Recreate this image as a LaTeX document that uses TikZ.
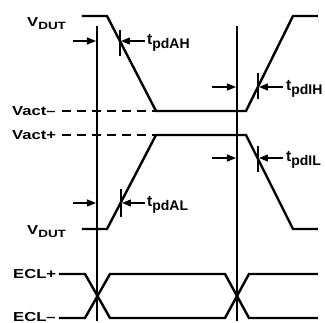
\documentclass[tikz,border=0pt]{standalone}
\usepackage{fontspec}
\setmainfont{Liberation Sans}
\usetikzlibrary{arrows.meta}
\newcommand\widetx[1]{\scalebox{1.28}[1]{#1}}
\newcommand\vsub[1]{\raisebox{-3pt}{\fontsize{10.5}{11}\selectfont\bfseries #1}}
\newcommand\tsub[1]{\raisebox{-4pt}{\fontsize{14}{15}\selectfont\bfseries #1}}
\tikzset{
  wave/.style={line width=2.4pt, line join=miter},
  refline/.style={line width=1.7pt},
  dashref/.style={line width=1.2pt, dash pattern=on 9pt off 6pt},
  meas/.style={line width=1.3pt, -{Triangle[length=9pt,width=7pt]}},
  tickmk/.style={line width=1.7pt},
  lbl/.style={font=\fontsize{13}{14}\selectfont\bfseries, inner sep=0pt, anchor=base west},
  tlbl/.style={font=\fontsize{15.5}{16}\selectfont\bfseries, inner sep=0pt, anchor=base west},
}
\begin{document}
\begin{tikzpicture}[x=1pt,y=-1pt]
\useasboundingbox (0,0) rectangle (325,323);
% reference verticals
\coordinate (v1t) at (97,26); \coordinate (v1b) at (97,321);
\coordinate (v2t) at (237,26); \coordinate (v2b) at (237,321);
\draw[refline] (v1t) -- (v1b);
\draw[refline] (v2t) -- (v2b);
% labels
\node[lbl] (vdut1) at (27,26.5) {\widetx{V\vsub{DUT}}};
\node[lbl] (vdut2) at (27,234.5) {\widetx{V\vsub{DUT}}};
\node[lbl] (vam) at (12,115.5) {\widetx{Vact–}};
\node[lbl] (vap) at (12,139.5) {\widetx{Vact+}};
\node[lbl] (eclp) at (13,278.5) {\widetx{ECL+}};
\node[lbl] (eclm) at (13,321.5) {\widetx{ECL–}};
% dashed thresholds
\coordinate (dm1) at (62,111); \coordinate (dm2) at (156,111);
\coordinate (dp1) at (62,135); \coordinate (dp2) at (156,135);
\draw[dashref] (dm1) -- (dm2);
\draw[dashref] (dp1) -- (dp2);
% trace 1
\draw[wave] (82,16) -- (107,16) -- (156,111) -- (246,111) -- (293,16) -- (318,16);
% trace 2
\draw[wave] (82,229) -- (107,229) -- (156,135) -- (246,135) -- (293,229) -- (318,229);
% ECL
\draw[wave] (59,274) -- (85,274) -- (110,318) -- (225,318) -- (249,274) -- (318,274);
\draw[wave] (59,318) -- (85,318) -- (110,274) -- (225,274) -- (249,318) -- (318,318);
% ticks
\draw[tickmk] (120,30) -- (120,56);
\draw[tickmk] (258,73) -- (258,99);
\draw[tickmk] (258,146) -- (258,172);
\draw[tickmk] (121,189) -- (121,217);
% measurement arrows
\coordinate (a1) at (73,41); \coordinate (a1e) at (96,41);
\coordinate (b1) at (145,41); \coordinate (b1e) at (121,41);
\draw[meas] (a1) -- (a1e);
\draw[meas] (b1) -- (b1e);
\node[tlbl] (tah) at (147,45) {t\tsub{pdAH}};
\coordinate (a2) at (212,87); \coordinate (a2e) at (236,87);
\coordinate (b2) at (283,87); \coordinate (b2e) at (259,87);
\draw[meas] (a2) -- (a2e);
\draw[meas] (b2) -- (b2e);
\node[tlbl] (tih) at (286,91) {t\tsub{pdIH}};
\coordinate (a3) at (212,158); \coordinate (a3e) at (236,158);
\coordinate (b3) at (283,158); \coordinate (b3e) at (259,158);
\draw[meas] (a3) -- (a3e);
\draw[meas] (b3) -- (b3e);
\node[tlbl] (til) at (286,162) {t\tsub{pdIL}};
\coordinate (a4) at (73,203); \coordinate (a4e) at (96,203);
\coordinate (b4) at (145,203); \coordinate (b4e) at (122,203);
\draw[meas] (a4) -- (a4e);
\draw[meas] (b4) -- (b4e);
\node[tlbl] (tal) at (147,207) {t\tsub{pdAL}};
\end{tikzpicture}
\end{document}
